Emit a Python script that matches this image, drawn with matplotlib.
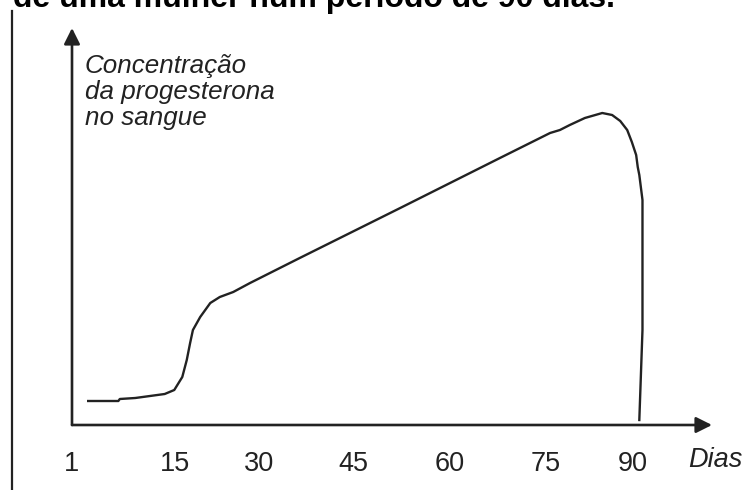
import numpy as np
import matplotlib
matplotlib.use("Agg")
import matplotlib.pyplot as plt
from matplotlib.lines import Line2D

plt.rcParams['font.family'] = ['Liberation Sans', 'DejaVu Sans']

# tick days and where they sit along the axis (the drawing is not to scale)
tick_days = [1, 15, 30, 45, 60, 75, 90]
tick_labels = ['1', '15', '30', '45', '60', '75', '90']
knot_days = [1, 15, 30, 45, 60, 75, 90, 95]
knot_pos = [0, 103, 187, 281, 378, 474, 561, 640]

# progesterone curve (relative units)
dias = [3.2, 7.3, 7.5, 9.6, 11.6, 13.6, 14.9, 16.3, 17.1, 17.7, 18.2, 19.5,
        21.3, 23.0, 25.4, 28.4, 36.5, 52.3, 67.8, 75.7, 77.4, 79.1, 81.7,
        84.7, 86.4, 87.8, 89.0, 89.8, 90.2, 90.3, 90.4, 90.6, 90.6, 90.4]
conc = [24, 24, 26, 27, 29, 31, 35, 48, 65, 82, 95, 108,
        122, 128, 133, 142, 167, 217, 267, 292, 295, 300, 307,
        312, 310, 304, 295, 283, 270, 258, 250, 225, 95, 5]


def fwd(d):
    return np.interp(d, knot_days, knot_pos)


def inv(p):
    return np.interp(p, knot_pos, knot_days)


W, H = 748, 490
fig = plt.figure(figsize=(W / 100, H / 100), dpi=100)
ax = fig.add_axes([72 / W, (H - 425) / H, (712 - 72) / W, (425 - 28) / H])

ax.set_xscale('function', functions=(fwd, inv))
ax.plot(dias, conc, color='#222222', lw=1.7, solid_joinstyle='round')
ax.set_xlim(1, 95)
ax.set_ylim(0, 397)

for s in ax.spines.values():
    s.set_visible(False)
ax.set_yticks([])
ax.set_xticks(tick_days)
ax.set_xticklabels(tick_labels, fontsize=19.5, color='#222222')
ax.tick_params(axis='x', length=0, pad=19)
ax.minorticks_off()

# axes with arrow heads
arrow = dict(arrowstyle='-|>', mutation_scale=24, lw=1.9, color='#222222',
             shrinkA=0, shrinkB=0)
ax.annotate('', xy=(1, 0), xytext=(0, 0), xycoords='axes fraction',
            textcoords='axes fraction', arrowprops=arrow, annotation_clip=False)
ax.annotate('', xy=(0, 1), xytext=(0, 0), xycoords='axes fraction',
            textcoords='axes fraction', arrowprops=arrow, annotation_clip=False)

ax.text(13 / 640, 1 - 64 / 397, 'Concentração\nda progesterona\nno sangue',
        transform=ax.transAxes, fontsize=18.7, style='italic', color='#222222',
        ha='left', va='center', linespacing=1.1)
fig.text(715 / W, 1 - 460 / H, 'Dias', fontsize=19.5, style='italic',
         color='#222222', ha='center', va='center')

# cut-off heading and page border
fig.text(13 / W, 1 - 7 / H, 'de uma mulher num período de 90 dias.',
         fontsize=23, fontweight='bold', color='black', ha='left', va='baseline')
fig.add_artist(Line2D([12 / W, 12 / W], [0, 1 - 11 / H], color='#222222', lw=1.6))

fig.savefig('out.png', dpi=100)
